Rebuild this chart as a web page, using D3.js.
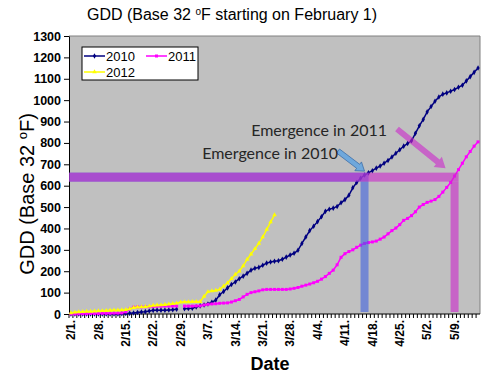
<!DOCTYPE html>
<html>
<head>
<meta charset="utf-8">
<script src="https://cdn.jsdelivr.net/npm/d3@7"></script>
<style>
    body { margin: 0; background: #fff; }
    text { font-family: Arial, "Liberation Sans", sans-serif; }
</style>
</head>
<body>
<svg id="chart" width="500" height="377"></svg>
<script>
// days on the axis run on the 2012 calendar (it has 2/29)
const fmtDay = d3.timeFormat("%-m/%-d.");
const categories = d3.timeDay.range(new Date(2012, 1, 1), new Date(2012, 4, 16)).map(fmtDay);

const tickLabels = ["2/1.", "2/8.", "2/15.", "2/22.", "2/29.", "3/7.", "3/14.", "3/21.",
    "3/28.", "4/4.", "4/11.", "4/18.", "4/25.", "5/2.", "5/9."];
const yTicks = [0, 100, 200, 300, 400, 500, 600, 700, 800, 900, 1000, 1100, 1200, 1300];

// GDD per day, null where the year has no 2/29
const gdd2010 = [
    0, 0, 0, 0, 0, 0, 0, 0, 0, 0,
    0, 0, 0, 1, 2, 3, 5, 7, 9, 11,
    14, 17, 18, 18, 18, 19, 20, 22, null, 25,
    26, 27, 33, 38, 42, 47, 55, 65, 90, 105,
    122, 138, 150, 165, 177, 190, 205, 214, 218, 228,
    238, 243, 247, 249, 256, 266, 276, 284, 298, 330,
    360, 390, 410, 432, 455, 480, 490, 495, 503, 520,
    535, 555, 590, 615, 635, 650, 660, 670, 682, 692,
    705, 718, 734, 752, 768, 785, 797, 810, 845, 880,
    910, 945, 970, 995, 1015, 1028, 1034, 1042, 1050, 1060,
    1070, 1090, 1110, 1130, 1150];
const gdd2011 = [
    0, 0, 1, 1, 1, 2, 2, 2, 3, 3,
    3, 4, 4, 5, 10, 23, 32, 33, 33, 34,
    34, 35, 36, 36, 37, 37, 37, 37, null, 37,
    37, 37, 38, 38, 42, 45, 47, 48, 50, 51,
    52, 56, 62, 68, 80, 92, 100, 104, 108, 113,
    115, 115, 115, 115, 115, 115, 117, 120, 124, 130,
    135, 140, 146, 153, 163, 175, 190, 205, 230, 265,
    282, 292, 300, 312, 322, 330, 334, 337, 341, 350,
    360, 375, 390, 402, 418, 438, 447, 460, 478, 500,
    512, 522, 528, 535, 550, 570, 592, 615, 645, 675,
    705, 735, 760, 785, 805];
const gdd2012 = [
    5, 8, 10, 11, 12, 12, 13, 14, 15, 16,
    17, 18, 18, 19, 20, 24, 30, 32, 33, 34,
    36, 40, 41, 42, 44, 46, 48, 50, 55, 57,
    57, 58, 58, 58, 82, 104, 108, 110, 115, 130,
    145, 165, 185, 200, 225, 255, 280, 305, 330, 360,
    395, 430, 463];

const seriesNames = ["2010", "2011", "2012"];
const seriesColors = ["#000080", "#ff00ff", "#ffff00"];
const seriesSymbols = [d3.symbolDiamond, d3.symbolSquare, d3.symbolTriangle];

const emergenceGdd = 640;
const emergenceDays = ["4/16.", "5/9."];

const svg = d3.select("#chart");
const dims = {left: 69, top: 36, right: 480, bottom: 314};

const x = d3.scaleBand().domain(categories).range([dims.left, dims.right]);
const y = d3.scaleLinear().domain([0, 1300]).range([dims.bottom, dims.top]);
const cx = d => x(d) + x.bandwidth() / 2;

// plot area
svg.append("rect")
    .attr("x", dims.left).attr("y", dims.top)
    .attr("width", dims.right - dims.left).attr("height", dims.bottom - dims.top)
    .attr("fill", "#c0c0c0");
svg.append("path")
    .attr("d", `M${dims.left},${dims.top}H${dims.right}V${dims.bottom}`)
    .attr("fill", "none").attr("stroke", "#808080");

// title
const title = svg.append("text")
    .attr("x", 232).attr("y", 20)
    .attr("text-anchor", "middle")
    .style("font-size", "16px");
title.append("tspan").text("GDD (Base 32 ");
title.append("tspan").text("o").attr("dy", -5).style("font-size", "10px");
title.append("tspan").text("F starting on February 1)").attr("dy", 5);

// y axis
const yAxis = svg.append("g")
    .attr("transform", `translate(${dims.left},0)`)
    .call(d3.axisLeft(y).tickValues(yTicks).tickFormat(d3.format("d"))
        .tickSize(5).tickSizeOuter(0).tickPadding(3));
yAxis.select(".domain").attr("stroke", "#000");
yAxis.selectAll("text").style("font-size", "12.5px").style("font-weight", "bold")
    .style("font-family", "Arial, 'Liberation Sans', sans-serif");

const yLabel = svg.append("text")
    .attr("transform", "translate(34,194) rotate(-90)")
    .attr("text-anchor", "middle")
    .style("font-size", "20px");
yLabel.append("tspan").text("GDD (Base 32 ");
yLabel.append("tspan").text("o").attr("dy", -7).style("font-size", "13px");
yLabel.append("tspan").text("F)").attr("dy", 7);

// x axis: a tick for every day, a label every week
const xAxis = svg.append("g")
    .attr("transform", `translate(${-x.bandwidth() / 2},${dims.bottom})`)
    .call(d3.axisBottom(x).tickValues(categories).tickFormat("").tickSize(4).tickSizeOuter(0));
xAxis.select(".domain").remove();
svg.append("line")
    .attr("x1", dims.left).attr("x2", dims.right)
    .attr("y1", dims.bottom).attr("y2", dims.bottom)
    .attr("stroke", "#000");

svg.selectAll("text.xlab")
    .data(tickLabels)
    .enter()
    .append("text")
    .attr("class", "xlab")
    .attr("transform", d => `translate(${cx(d)},${dims.bottom + 6}) rotate(-90)`)
    .attr("text-anchor", "end")
    .attr("dy", "0.35em")
    .style("font-size", "12px").style("font-weight", "bold")
    .text(d => d);

svg.append("text")
    .attr("x", 270).attr("y", 370)
    .attr("text-anchor", "middle")
    .style("font-size", "18px").style("font-weight", "bold")
    .text("Date");

// series
const allSeries = [gdd2010, gdd2011, gdd2012];
allSeries.forEach((values, i) => {
    const pts = values.map((v, j) => ({cat: categories[j], v}));
    const line = d3.line()
        .defined(d => d.v != null)
        .x(d => cx(d.cat))
        .y(d => y(d.v));
    svg.append("path")
        .attr("d", line(pts))
        .attr("fill", "none")
        .attr("stroke", seriesColors[i])
        .attr("stroke-width", 1.5);
    svg.append("g").selectAll("path")
        .data(pts.filter(d => d.v != null))
        .enter()
        .append("path")
        .attr("transform", d => `translate(${cx(d.cat)},${y(d.v)})`)
        .attr("d", d3.symbol().type(seriesSymbols[i]).size(9))
        .attr("fill", seriesColors[i]);
});

// emergence guides
const bandY = y(emergenceGdd);
const blueX = cx(emergenceDays[0]);
const pinkX = cx(emergenceDays[1]);
const blue = "#4060e0", pink = "#cc27cc";

svg.append("rect")
    .attr("x", dims.left).attr("y", bandY - 4.5)
    .attr("width", blueX + 4 - dims.left).attr("height", 9)
    .attr("fill", blue).attr("opacity", 0.6);
svg.append("rect")
    .attr("x", blueX - 4).attr("y", bandY + 4.5)
    .attr("width", 8).attr("height", y(0) - 2 - bandY - 4.5)
    .attr("fill", blue).attr("opacity", 0.6);
svg.append("rect")
    .attr("x", dims.left).attr("y", bandY - 4.5)
    .attr("width", pinkX + 4 - dims.left).attr("height", 9)
    .attr("fill", pink).attr("opacity", 0.6);
svg.append("rect")
    .attr("x", pinkX - 4).attr("y", bandY + 4.5)
    .attr("width", 8).attr("height", y(0) - 2 - bandY - 4.5)
    .attr("fill", pink).attr("opacity", 0.6);

function arrowPath(x1, y1, x2, y2, shaftW, headW, headL) {
    const len = Math.hypot(x2 - x1, y2 - y1);
    const ux = (x2 - x1) / len, uy = (y2 - y1) / len;
    const nx = -uy, ny = ux;
    const bx = x2 - ux * headL, by = y2 - uy * headL;
    const p = [
        [x1 + nx * shaftW / 2, y1 + ny * shaftW / 2],
        [bx + nx * shaftW / 2, by + ny * shaftW / 2],
        [bx + nx * headW / 2, by + ny * headW / 2],
        [x2, y2],
        [bx - nx * headW / 2, by - ny * headW / 2],
        [bx - nx * shaftW / 2, by - ny * shaftW / 2],
        [x1 - nx * shaftW / 2, y1 - ny * shaftW / 2]
    ];
    return "M" + p.map(q => q.join(",")).join("L") + "Z";
}

svg.append("path")
    .attr("d", arrowPath(338, 151, blueX, bandY - 6, 5, 11, 8))
    .attr("fill", "#6fa8dc").attr("stroke", "#3d6fa8").attr("stroke-width", 0.8);
svg.append("path")
    .attr("d", arrowPath(397, 129, pinkX - 9, bandY - 9, 6, 13, 10))
    .attr("fill", pink).attr("opacity", 0.6);

svg.append("text")
    .attr("x", 338).attr("y", 159)
    .attr("text-anchor", "end")
    .style("font-family", "Lato, 'Open Sans', sans-serif")
    .style("font-size", "16px").attr("fill", "#262626")
    .text("Emergence in 2010");
svg.append("text")
    .attr("x", 387).attr("y", 136)
    .attr("text-anchor", "end")
    .style("font-family", "Lato, 'Open Sans', sans-serif")
    .style("font-size", "16px").attr("fill", "#262626")
    .text("Emergence in 2011");

// legend
const legend = svg.append("g");
legend.append("rect")
    .attr("x", 82).attr("y", 47).attr("width", 116).attr("height", 33)
    .attr("fill", "#fff").attr("stroke", "#000");
const legendPos = [[84, 56], [146, 56], [84, 72]];
seriesNames.forEach((name, i) => {
    const [lx, ly] = legendPos[i];
    legend.append("line")
        .attr("x1", lx).attr("x2", lx + 21).attr("y1", ly).attr("y2", ly)
        .attr("stroke", seriesColors[i]).attr("stroke-width", 1.5);
    legend.append("path")
        .attr("transform", `translate(${lx + 10.5},${ly})`)
        .attr("d", d3.symbol().type(seriesSymbols[i]).size(9))
        .attr("fill", seriesColors[i]);
    legend.append("text")
        .attr("x", lx + 22).attr("y", ly).attr("dy", "0.36em")
        .style("font-size", "13px")
        .text(name);
});
</script>
</body>
</html>
